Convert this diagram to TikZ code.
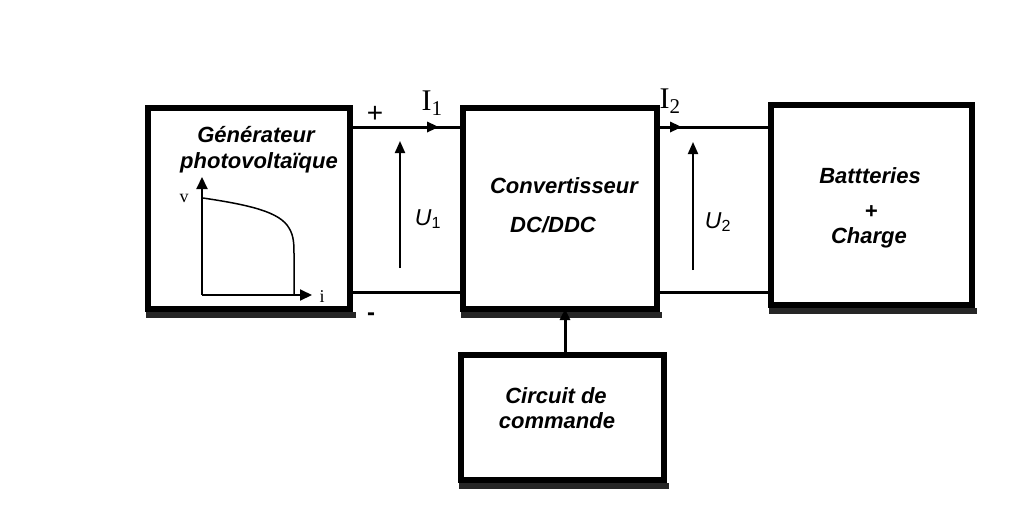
\documentclass[tikz,border=0pt]{standalone}
\usepackage{fontspec}
\setmainfont{Liberation Sans}
\newfontfamily\serifl{Liberation Serif}
\usetikzlibrary{arrows.meta}
\begin{document}
\begin{tikzpicture}[x=1pt,y=-1pt,
  blk/.style={draw=black,line width=6pt,fill=white,inner sep=0pt},
  wire/.style={line width=3pt},
  varrow/.style={line width=2pt,-{Triangle[length=12pt,width=10pt]}},
  harrow/.style={line width=3pt,-{Triangle[length=12pt,width=10pt]}},
  lbl/.style={font=\fontsize{22}{24}\selectfont\bfseries\itshape,anchor=base,inner sep=0pt},
  ser/.style={font=\serifl\fontsize{30}{32}\selectfont,anchor=base,inner sep=0pt},
  shad/.style={fill=black!85}]
\useasboundingbox (0,0) rectangle (1032,512);
\fill[white] (0,0) rectangle (1032,512);
% shadows
\fill[shad] (146,312) rectangle (356,318);
\fill[shad] (461,312) rectangle (662,318);
\fill[shad] (769,308) rectangle (977,314);
\fill[shad] (459,483) rectangle (669,489);
% boxes
\node[blk,minimum width=202pt,minimum height=201pt] (g) at (249,208.5) {};
\node[blk,minimum width=194pt,minimum height=201pt] (c) at (560,208.5) {};
\node[blk,minimum width=201pt,minimum height=200pt] (b) at (871.5,205) {};
\node[blk,minimum width=203pt,minimum height=125pt] (k) at (562.5,417.5) {};
\coordinate (ya) at (0,127);
\coordinate (yb) at (0,292);
\coordinate (xc) at (565,0);
% wires
\draw[wire] (g.east |- ya) -- (c.west |- ya);
\draw[harrow] (g.east |- ya) -- ([xshift=86pt]g.east |- ya);
\draw[wire] (g.east |- yb) -- (c.west |- yb);
\draw[wire] (c.east |- ya) -- (b.west |- ya);
\draw[harrow] (c.east |- ya) -- ([xshift=22pt]c.east |- ya);
\draw[wire] (c.east |- yb) -- (b.west |- yb);
% control arrow
\draw[line width=3pt,-{Triangle[length=11pt,width=10pt]}] (k.north -| xc) -- ([yshift=3pt]c.south -| xc);
% voltage arrows
\coordinate (u1b) at (400,268); \coordinate (u1t) at (400,141);
\coordinate (u2b) at (693,270); \coordinate (u2t) at (693,142);
\draw[varrow] (u1b) -- (u1t);
\draw[varrow] (u2b) -- (u2t);
% labels
\node[font=\fontsize{28}{30}\selectfont,anchor=base,inner sep=0pt] (plus) at (375,122) {+};
\node[font=\fontsize{24}{26}\selectfont\bfseries,anchor=base,inner sep=0pt] (minus) at (371,320) {-};
\node[ser] (i1) at (432,110) {I\textsubscript{1}};
\node[ser] (i2) at (670,108) {I\textsubscript{2}};
\node[font=\fontsize{23}{25}\selectfont\itshape,anchor=base,inner sep=0pt] (u1) at (428,225) {U\textsubscript{\upshape 1}};
\node[font=\fontsize{23}{25}\selectfont\itshape,anchor=base,inner sep=0pt] (u2) at (718,228) {U\textsubscript{\upshape 2}};
\node[lbl] (t1) at (256,142) {Générateur};
\node[lbl] (t2) at (259,168) {photovoltaïque};
\node[lbl] (t3) at (564,193) {Convertisseur};
\node[lbl] (t4) at (553,232) {DC/DDC};
\node[lbl] (t5) at (870,183) {Battteries};
\node[lbl] (t6) at (871,218) {+};
\node[lbl] (t7) at (869,243) {Charge};
\node[lbl] (t8) at (556,403) {Circuit de};
\node[lbl] (t9) at (557,428) {commande};
% graph
\coordinate (o) at (202,295);
\coordinate (vy) at (202,177);
\coordinate (ix) at (312,295);
\draw[line width=2pt,-{Triangle[length=12pt,width=11pt]}] (o) -- (vy);
\draw[line width=2pt,-{Triangle[length=12pt,width=11pt]}] (o) -- (ix);
\draw[line width=1.5pt] (203,198) .. controls (250,205) and (280,212) .. (289,228) .. controls (294,236) and (294,245) .. (294,255) -- (294,295);
\node[font=\serifl\fontsize{18}{20}\selectfont,anchor=base,inner sep=0pt] (vl) at (184,202) {v};
\node[font=\serifl\fontsize{18}{20}\selectfont,anchor=base,inner sep=0pt] (il) at (322,302) {i};
\end{tikzpicture}
\end{document}
